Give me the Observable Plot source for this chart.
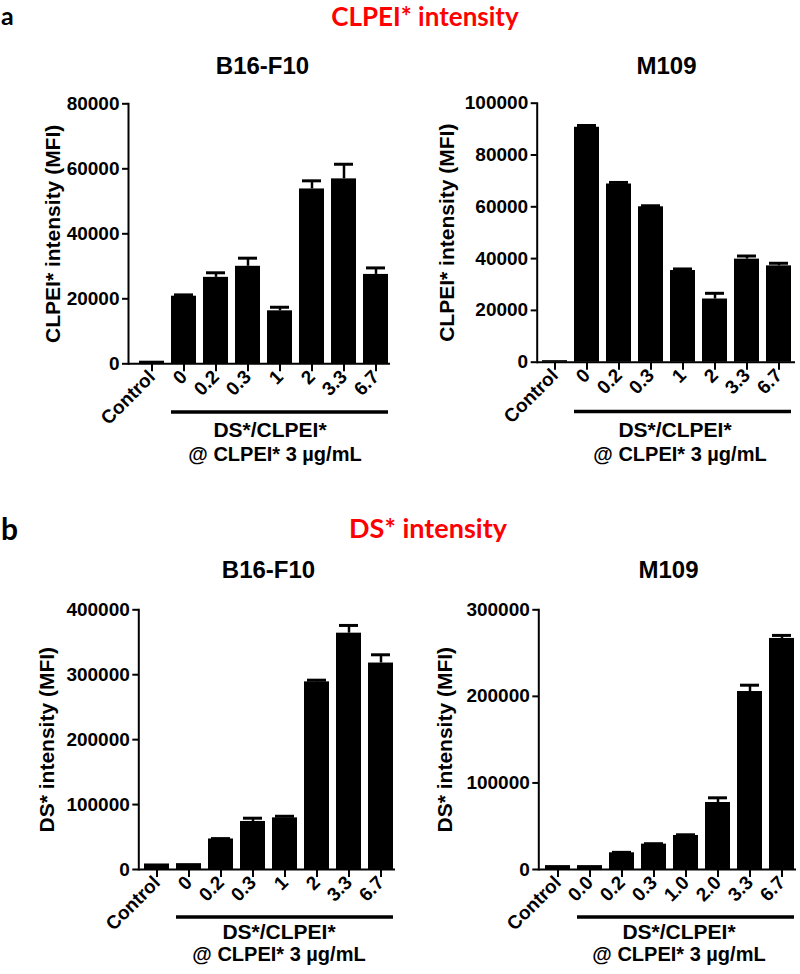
<!DOCTYPE html>
<html>
<head>
<meta charset="utf-8">
<script src="https://cdn.jsdelivr.net/npm/d3@7"></script>
<script src="https://cdn.jsdelivr.net/npm/@observablehq/plot@0.6"></script>
<style>
  body { margin: 0; background: #fff; }
  #page { position: relative; width: 800px; height: 974px; overflow: hidden; background: #fff; }
  .panel { position: absolute; }
  .panel svg { overflow: visible; }
</style>
</head>
<body>
<div id="page"></div>
<script>
// ---------- data ----------
const sectionA = "a";
const sectionB = "b";
const titleA = "CLPEI* intensity";
const titleB = "DS* intensity";
const cellLines = ["B16-F10", "M109"];
const yLabelA = "CLPEI* intensity (MFI)";
const yLabelB = "DS* intensity (MFI)";
const groupLabel = "DS*/CLPEI*";
const doseLabel = "@ CLPEI* 3 \u00b5g/mL";

const catsA = ["Control", "0", "0.2", "0.3", "1", "2", "3.3", "6.7"];
const catsM109DS = ["Control", "0.0", "0.2", "0.3", "1.0", "2.0", "3.3", "6.7"];

const clpeiB16    = [800, 20800, 26600, 30000, 16300, 53800, 56900, 27500];
const clpeiB16Err = [0, 400, 1400, 2500, 1100, 2500, 4500, 2000];
const clpeiM109    = [600, 90700, 68800, 60000, 35400, 24400, 39800, 37200];
const clpeiM109Err = [0, 700, 600, 400, 600, 2200, 1200, 1000];
const dsB16    = [8500, 9000, 47000, 74000, 79500, 289000, 364000, 318000];
const dsB16Err = [0, 0, 600, 5000, 2500, 2600, 11900, 12700];
const dsM109    = [4500, 4500, 19300, 29300, 39300, 77400, 205600, 266900];
const dsM109Err = [0, 0, 500, 500, 800, 5400, 7300, 3500];

const ticksA1 = [0, 20000, 40000, 60000, 80000];
const ticksA2 = [0, 20000, 40000, 60000, 80000, 100000];
const ticksB1 = [0, 100000, 200000, 300000, 400000];
const ticksB2 = [0, 100000, 200000, 300000];

// ---------- drawing ----------
const page = document.getElementById("page");
const FONT = "'Liberation Sans', Arial, Helvetica, sans-serif";

function panel(cfg) {
  const data = cfg.cats.map((c, i) => ({cat: c, value: cfg.vals[i], err: cfg.errs[i]}));
  const withErr = data.filter(d => d.err > 0);
  const under = [{a: cfg.cats[1], b: cfg.cats[cfg.cats.length - 1], y: 0}];
  const mid = cfg.cats[4];
  const chart = Plot.plot({
    width: 400,
    height: cfg.height,
    marginLeft: cfg.mL, marginRight: cfg.mR, marginTop: cfg.mT, marginBottom: cfg.mB,
    style: {fontFamily: FONT, fontWeight: "bold", fontSize: "19px", color: "#000", background: "transparent"},
    x: {type: "band", domain: cfg.cats, paddingInner: 0.23, paddingOuter: 0, insetLeft: cfg.inL, insetRight: cfg.inR},
    y: {domain: [0, cfg.yMax]},
    marks: [
      Plot.barY(data, {x: "cat", y: "value", fill: "#000"}),
      Plot.ruleX(withErr, {x: "cat", y1: "value", y2: d => d.value + d.err, stroke: "#000", strokeWidth: 2.5}),
      Plot.tickY(withErr, {x: "cat", y: d => d.value + d.err, stroke: "#000", strokeWidth: 3, insetLeft: 3, insetRight: 3}),
      Plot.ruleY([0], {stroke: "#000", strokeWidth: 2}),
      Plot.frame({anchor: "left", stroke: "#000", strokeWidth: 2}),
      Plot.axisY({ticks: cfg.ticks, tickFormat: d => String(d), tickSize: 6, tickPadding: 3, strokeWidth: 2, fontSize: 19, label: null}),
      Plot.axisX({tickSize: 8, tickPadding: 2, tickRotate: -45, strokeWidth: 2, fontSize: 19, label: null}),
      Plot.text([cfg.yLabel], {text: d => d, frameAnchor: "left", rotate: -90, dx: cfg.labelDx, fontSize: 21, fontWeight: "bold", textAnchor: "middle", lineAnchor: "middle", fill: "#000"}),
      Plot.ruleY(under, {x1: "a", x2: "b", y: "y", dy: cfg.underDy, stroke: "#000", strokeWidth: 3.5}),
      Plot.text([{c: mid, y: 0, t: groupLabel}], {x: "c", y: "y", text: "t", dx: cfg.t1Dx, dy: cfg.t1Dy, lineAnchor: "bottom", fontSize: 21, fontWeight: "bold", fill: "#000"}),
      Plot.text([{c: mid, y: 0, t: doseLabel}], {x: "c", y: "y", text: "t", dx: cfg.t2Dx, dy: cfg.t2Dy, lineAnchor: "bottom", fontSize: 20, fontWeight: "bold", fill: "#000"})
    ]
  });
  const wrap = document.createElement("div");
  wrap.className = "panel";
  wrap.style.left = cfg.left + "px";
  wrap.style.top = cfg.top + "px";
  wrap.appendChild(chart);
  page.appendChild(wrap);
}

panel({cats: catsA, vals: clpeiB16, errs: clpeiB16Err, yLabel: yLabelA, yMax: 80000, ticks: ticksA1,
  left: 0, top: 85, height: 390, mL: 128, mR: 10, mT: 18.3, mB: 111.7, inL: 9.6, inR: 1,
  labelDx: -75, underDy: 48.2, t1Dy: 72.7, t2Dy: 96.7, t1Dx: -10, t2Dx: -5});
panel({cats: catsA, vals: clpeiM109, errs: clpeiM109Err, yLabel: yLabelA, yMax: 100000, ticks: ticksA2,
  left: 400, top: 85, height: 390, mL: 136.7, mR: 5, mT: 17.7, mB: 113.3, inL: 4.1, inR: 2.5,
  labelDx: -90, underDy: 49.3, t1Dy: 75, t2Dy: 98.3, t1Dx: -8, t2Dx: -3});
panel({cats: catsA, vals: dsB16, errs: dsB16Err, yLabel: yLabelB, yMax: 400000, ticks: ticksB1,
  left: 0, top: 580, height: 394, mL: 138.3, mR: 5, mT: 29.3, mB: 105, inL: 4.2, inR: 0.8,
  labelDx: -92, underDy: 47.5, t1Dy: 69.5, t2Dy: 91, t1Dx: -6, t2Dx: -6});
panel({cats: catsM109DS, vals: dsM109, errs: dsM109Err, yLabel: yLabelB, yMax: 300000, ticks: ticksB2,
  left: 400, top: 580, height: 394, mL: 138.3, mR: 4, mT: 29.3, mB: 105, inL: 4.2, inR: 0.8,
  labelDx: -94, underDy: 47.5, t1Dy: 69, t2Dy: 91, t1Dx: -7, t2Dx: -7});

// ---------- headers ----------
const hs = d3.select(page).append("svg")
  .attr("width", 800).attr("height", 974)
  .style("position", "absolute").style("left", "0px").style("top", "0px")
  .style("pointer-events", "none");

function label(text, x, baseline, opts) {
  hs.append("text")
    .attr("x", x).attr("y", baseline)
    .attr("text-anchor", opts.anchor || "middle")
    .attr("font-family", opts.family)
    .attr("font-weight", "bold")
    .attr("font-size", opts.size)
    .attr("fill", opts.color || "#000")
    .text(text);
}
const CAL = "Lato, 'Open Sans', sans-serif";
label(sectionA, 1, 25, {anchor: "start", family: CAL, size: 25});
label(titleA, 425, 26, {family: CAL, size: 26, color: "#f00"});
label(cellLines[0], 262.5, 74, {family: FONT, size: 24});
label(cellLines[1], 666.5, 74, {family: FONT, size: 24});
label(sectionB, 1, 540, {anchor: "start", family: CAL, size: 30});
label(titleB, 428, 538, {family: CAL, size: 27, color: "#f00"});
label(cellLines[0], 268.5, 578, {family: FONT, size: 24});
label(cellLines[1], 668.5, 578, {family: FONT, size: 24});
</script>
</body>
</html>
